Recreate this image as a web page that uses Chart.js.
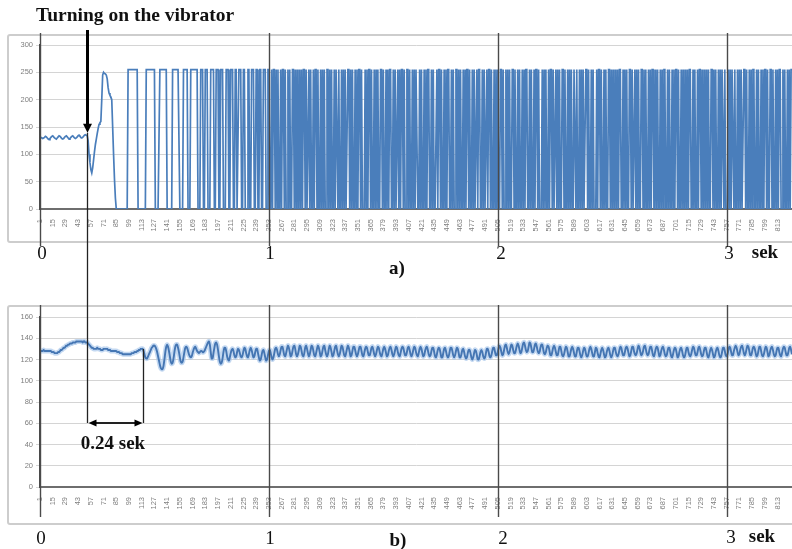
<!DOCTYPE html>
<html>
<head>
<meta charset="utf-8">
<script src="https://cdn.jsdelivr.net/npm/chart.js@4.4.0/dist/chart.umd.min.js"></script>
<style>
    body { margin: 0; background: #fff; width: 792px; height: 549px; overflow: hidden; position: relative; }
    .box { position: absolute; left: 7px; width: 800px; border: 2px solid #cdcdcd; border-radius: 3px; }
    #box-a { top: 34px; height: 205px; }
    #box-b { top: 305px; height: 216px; }
    canvas { position: absolute; left: 0; }
    #chart-a { top: 0; }
    #chart-b { top: 290px; }
    .txt { position: absolute; font-family: 'Liberation Serif', 'Times New Roman', serif; font-size: 19px; color: #111; transform: translate(-50%, -50%); white-space: nowrap; }
    .bold { font-weight: bold; }
    #title { left: 36px; top: 4px; transform: none; font-size: 19.5px; }
</style>
</head>
<body>
<div class="box" id="box-a"></div>
<div class="box" id="box-b"></div>
<canvas id="chart-a" width="792" height="290"></canvas>
<canvas id="chart-b" width="792" height="259"></canvas>

<div class="txt bold" id="title">Turning on the vibrator</div>
<div class="txt" style="left:42px; top:253px;">0</div>
<div class="txt" style="left:270px; top:253px;">1</div>
<div class="txt" style="left:501px; top:253px;">2</div>
<div class="txt" style="left:729px; top:253px;">3</div>
<div class="txt bold" style="left:765px; top:252px;">sek</div>
<div class="txt bold" style="left:397px; top:268px;">a)</div>
<div class="txt" style="left:41px; top:538px;">0</div>
<div class="txt" style="left:270px; top:538px;">1</div>
<div class="txt" style="left:503px; top:538px;">2</div>
<div class="txt" style="left:731px; top:537px;">3</div>
<div class="txt bold" style="left:762px; top:536px;">sek</div>
<div class="txt bold" style="left:398px; top:540px;">b)</div>
<div class="txt bold" style="left:113px; top:443px;">0.24 sek</div>

<script>
// sample numbers shown under both charts
const xTickLabels = [1, 15, 29, 43, 57, 71, 85, 99, 113, 127, 141, 155, 169, 183, 197, 211, 225, 239, 253, 267,
    281, 295, 309, 323, 337, 351, 365, 379, 393, 407, 421, 435, 449, 463, 477, 491, 505, 519, 533, 547,
    561, 575, 589, 603, 617, 631, 645, 659, 673, 687, 701, 715, 729, 743, 757, 771, 785, 799, 813];

const secondMarks = [0, 1, 2, 3];
const samplesPerSecond = 252;
const vibratorOnSample = 53;
const settledSample = 114;

// a) raw signal, one value per sample
const aSignal = [
    132,131,130,129,130,131,133,132,130,128,
    127,129,131,133,134,132,130,129,128,130,
    132,134,133,131,129,128,129,131,133,134,
    132,130,128,129,131,133,134,132,130,129,
    130,132,134,135,133,131,130,131,133,135,
    136,135,134,125,100,85,72,66,75,90,
    105,118,128,138,147,155,158,160,200,245,
    250,248,247,245,238,222,212,208,205,200,
    150,100,55,20,0,0,0,0,0,0,
    0,0,0,0,0,0,0,255,255,255,
    255,255,255,255,255,255,255,255,0,0,
    0,0,0,0,0,0,0,255,255,255,
    255,255,255,255,255,255,255,0,0,0,
    0,0,255,255,255,255,255,255,255,255,
    0,0,0,0,0,0,255,255,255,255,
    255,255,255,255,0,0,0,0,255,255,
    255,255,255,0,0,0,255,255,255,255,
    255,255,255,255,0,0,0,255,255,255,
    0,0,255,255,255,0,0,0,255,255,
    255,255,0,0,255,255,255,0,0,255,
    255,255,0,0,0,255,255,255,0,0,
    255,255,255,0,0,255,255,0,0,255,
    255,255,0,0,255,255,0,0,0,255,
    255,0,0,255,255,255,0,0,255,255,
    0,0,255,255,0,0,255,255,255,0,
    0,255,255,0,0,255,0,255,255,0,
    255,0,255,0,0,255,0,255,255,0,
    255,0,0,255,0,255,0,0,255,255,
    0,255,0,255,0,0,255,0,255,0,
    255,255,0,255,0,0,255,0,255,0,
    0,255,0,255,255,0,255,0,0,255,
    0,255,0,255,0,0,255,255,0,255,
    0,255,0,0,255,0,255,255,0,255,
    0,0,255,0,255,0,255,0,0,255,
    255,0,255,0,255,0,0,255,0,255,
    0,255,255,0,255,0,0,0,255,0,
    255,0,255,255,0,255,0,0,255,0,
    255,0,255,0,0,255,255,0,255,0,
    0,255,0,255,0,255,255,0,0,255,
    0,255,0,0,255,0,255,0,255,255,
    0,255,0,0,255,255,0,255,0,0,
    255,0,255,0,255,255,0,0,255,0,
    255,0,0,255,0,255,0,255,255,0,
    0,255,0,255,0,0,0,255,0,255,
    255,0,255,0,0,255,0,255,0,255,
    255,0,0,255,0,255,0,0,255,255,
    0,255,0,255,0,0,255,0,255,0,
    255,255,0,255,0,0,255,0,255,0,
    0,255,0,255,255,0,0,255,0,255,
    0,0,255,0,255,255,0,255,0,0,
    255,0,255,0,255,0,0,255,255,0,
    255,0,0,255,0,255,0,255,0,0,
    255,255,0,255,0,0,255,0,255,0,
    0,255,0,255,0,255,255,0,0,255,
    0,255,0,0,255,0,255,255,0,255,
    0,0,0,255,0,255,0,255,0,0,
    255,0,255,255,0,255,0,0,255,0,
    255,0,255,0,0,255,255,0,255,0,
    0,255,0,255,0,255,0,0,255,255,
    0,255,0,0,255,0,255,0,255,0,
    0,255,255,0,255,0,0,255,0,255,
    0,0,0,255,0,255,255,0,255,0,
    0,255,0,255,0,0,255,255,0,255,
    0,255,0,0,255,0,255,0,255,255,
    0,0,255,0,255,0,255,0,0,255,
    255,0,255,0,0,255,0,255,0,255,
    0,0,255,255,0,255,0,255,0,0,
    255,0,255,0,255,255,0,0,255,0,
    255,0,0,255,0,255,0,255,255,0,
    0,255,0,255,0,0,255,0,255,0,
    255,255,0,255,0,0,255,0,255,0,
    0,255,0,255,0,255,255,0,0,255,
    0,255,0,0,255,0,255,255,0,255,
    0,0,255,0,255,0,255,0,0,255,
    255,0,255,0,255,0,0,255,0,255,
    0,255,255,0,255,0,0,0,255,0,
    255,0,255,255,0,255,0,0,255,0,
    255,0,255,0,0,255,255,0,255,0,
    0,255,0,255,0,255,255,0,0,255,
    0,255,0,0,255,0,255,0,255,255,
    0,255,0,0,255,255,0,255,0,0,
    255,0,255,0,255,255,0,0,255,0,
    255,0,0,255,0,255,0,255,255
];

// b) filtered signal, one value per sample
const bSignal = [
    128,128,128,128,129,128,128,128,128,128,
    128,128,128,127,127,127,126,126,126,126,
    127,127,128,129,129,130,131,131,132,133,
    133,134,134,135,135,135,136,136,136,136,
    137,137,137,137,137,137,137,136,137,137,
    136,136,136,135,134,133,132,131,131,130,
    130,130,130,131,130,130,130,129,129,129,
    130,130,130,130,130,129,129,129,128,128,
    128,128,128,128,128,127,127,127,126,126,
    126,125,125,125,125,125,125,125,125,125,
    125,126,126,126,127,127,127,128,128,129,
    129,130,130,130,128,125,122,121,121,123,
    125,127,129,131,132,133,133,132,130,127,
    123,119,115,112,111,111,114,120,127,132,
    134,132,128,123,118,116,117,121,127,132,
    134,134,131,127,122,118,117,118,122,127,
    131,132,131,128,125,123,122,123,126,129,
    131,132,130,128,127,126,127,128,128,127,
    127,128,130,132,134,136,137,134,127,121,
    121,126,131,135,136,134,129,123,118,116,
    117,121,127,131,131,128,123,120,119,122,
    126,129,130,128,124,122,123,127,130,129,
    126,123,122,124,128,131,130,126,123,122,
    125,129,131,129,125,122,123,127,130,130,
    126,122,119,120,124,128,129,126,122,119,
    120,124,128,129,126,122,120,122,126,130,
    131,129,125,123,125,129,132,132,128,124,
    123,126,130,133,131,127,123,124,128,132,
    133,130,125,123,125,129,133,132,128,124,
    123,126,131,133,130,126,123,125,129,133,
    132,128,124,123,126,130,133,131,127,123,
    124,128,132,133,129,125,123,125,130,133,
    131,127,123,124,128,132,133,129,125,123,
    125,129,133,132,128,124,123,126,130,133,
    131,127,123,124,128,132,132,129,125,123,
    125,129,132,132,128,124,123,126,130,132,
    131,127,124,124,127,131,132,129,125,123,
    125,129,132,131,127,124,123,126,130,132,
    130,126,123,124,128,131,132,129,125,123,
    125,129,132,131,127,124,123,126,130,132,
    131,127,124,124,127,131,132,129,125,123,
    125,129,132,131,127,124,123,126,130,132,
    130,126,123,124,128,131,132,129,125,123,
    124,128,131,131,127,123,122,125,129,131,
    130,126,122,122,126,130,131,128,124,122,
    123,127,131,131,128,124,122,124,128,131,
    130,126,122,122,125,129,130,127,123,121,
    122,126,129,129,126,122,120,122,126,129,
    128,124,120,120,123,127,129,127,123,121,
    122,126,130,130,127,123,122,124,128,131,
    131,127,124,124,127,131,133,131,127,124,
    125,129,133,134,131,127,125,127,131,134,
    133,129,126,126,129,133,135,133,129,126,
    127,131,135,136,133,129,127,128,132,136,
    135,131,127,127,130,134,135,132,128,126,
    127,131,134,134,130,126,125,127,131,133,
    132,128,124,124,127,131,133,131,127,124,
    124,128,132,132,128,124,123,125,129,132,
    131,127,123,123,126,130,132,130,126,123,
    123,127,131,131,128,124,122,124,128,131,
    130,126,123,123,126,130,132,130,126,123,
    123,127,131,130,126,123,122,125,129,131,
    129,125,122,123,127,130,131,128,124,122,
    124,128,131,131,127,124,123,125,129,132,
    131,127,124,124,127,131,132,130,126,123,
    124,128,132,132,128,125,124,126,130,133,
    131,127,124,125,128,132,133,130,126,124,
    125,129,132,132,128,124,123,126,130,132,
    131,127,123,124,128,131,132,129,125,123,
    124,128,131,131,127,123,122,125,129,131,
    130,126,122,123,127,130,131,128,124,122,
    123,127,131,131,127,124,123,125,129,132,
    131,127,124,124,127,131,132,129,125,123,
    124,128,131,131,127,123,122,125,129,131,
    129,125,122,123,127,130,131,128,124,122,
    123,127,131,131,128,124,123,125,129,132,
    131,127,124,124,128,131,133,131,127,124,
    125,129,132,133,130,126,124,126,130,133,
    132,128,124,124,127,131,132,130,126,123,
    124,128,132,132,128,124,123,125,129,132,
    131,127,123,124,128,131,132,129,125,123,
    124,128,131,131,127,124,123,126,130,132,
    131,127,124,124,127,131,132,129,125
];

const lineBlue = '#4a7ebb';
const tickGrey = '#7e7e7e';
const markGrey = '#4a4a4a';

// vertical lines at 0, 1, 2, 3 seconds
const secondLines = {
    id: 'secondLines',
    afterDraw(chart, args, opts) {
        const { ctx, scales: { x } } = chart;
        ctx.save();
        ctx.strokeStyle = markGrey;
        ctx.lineWidth = 1.4;
        secondMarks.forEach(s => {
            const px = Math.round(x.getPixelForValue(1 + s * samplesPerSecond)) + 0.5;
            ctx.beginPath();
            ctx.moveTo(px, opts.top);
            ctx.lineTo(px, opts.bottom);
            ctx.stroke();
        });
        ctx.restore();
    }
};

function arrowHead(ctx, tipX, tipY, dx, dy, len, half) {
    // dx, dy: unit direction of the arrow
    ctx.beginPath();
    ctx.moveTo(tipX, tipY);
    ctx.lineTo(tipX - dx * len - dy * half, tipY - dy * len + dx * half);
    ctx.lineTo(tipX - dx * len + dy * half, tipY - dy * len - dx * half);
    ctx.closePath();
    ctx.fill();
}

const switchOnMark = {
    id: 'switchOnMark',
    afterDraw(chart) {
        const { ctx, scales: { x, y } } = chart;
        const px = Math.round(x.getPixelForValue(vibratorOnSample)) + 0.5;
        const tip = y.getPixelForValue(aSignal[vibratorOnSample - 1]) - 3;
        ctx.save();
        ctx.fillStyle = '#000';
        ctx.strokeStyle = '#000';
        ctx.lineWidth = 3;
        ctx.beginPath();
        ctx.moveTo(px, 30);
        ctx.lineTo(px, tip - 8);
        ctx.stroke();
        arrowHead(ctx, px, tip, 0, 1, 9, 4.5);
        ctx.strokeStyle = '#222';
        ctx.lineWidth = 1.3;
        ctx.beginPath();
        ctx.moveTo(px, tip);
        ctx.lineTo(px, chart.height);
        ctx.stroke();
        ctx.restore();
    }
};

const delayMark = {
    id: 'delayMark',
    afterDraw(chart, args, opts) {
        const { ctx, scales: { x, y } } = chart;
        const x0 = Math.round(x.getPixelForValue(vibratorOnSample)) + 0.5;
        const x1 = Math.round(x.getPixelForValue(settledSample)) + 0.5;
        const y1 = y.getPixelForValue(bSignal[settledSample - 1]);
        const yb = opts.bracketY;
        ctx.save();
        ctx.strokeStyle = '#222';
        ctx.fillStyle = '#000';
        ctx.lineWidth = 1.3;
        ctx.beginPath();
        ctx.moveTo(x0, 0);
        ctx.lineTo(x0, yb);
        ctx.moveTo(x1, y1);
        ctx.lineTo(x1, yb);
        ctx.stroke();
        ctx.lineWidth = 2;
        ctx.beginPath();
        ctx.moveTo(x0 + 6, yb);
        ctx.lineTo(x1 - 6, yb);
        ctx.stroke();
        arrowHead(ctx, x0 + 1, yb, -1, 0, 8, 3.5);
        arrowHead(ctx, x1 - 1, yb, 1, 0, 8, 3.5);
        ctx.restore();
    }
};

function xScale() {
    return {
        type: 'linear',
        min: 1,
        max: 829,
        afterFit: scale => { scale.height = 30; },
        afterBuildTicks: scale => { scale.ticks = xTickLabels.map(v => ({ value: v })); },
        grid: { display: false },
        border: { color: '#6e6e6e', width: 2 },
        ticks: {
            autoSkip: false,
            minRotation: 90,
            maxRotation: 90,
            padding: 2,
            color: tickGrey,
            font: { family: 'Liberation Sans', size: 7.5 },
            callback: v => String(v),
        },
    };
}

function yScale(max, step) {
    return {
        min: 0,
        max: max,
        afterFit: scale => { scale.width = 32; },
        grid: { color: '#d4d4d4', lineWidth: 1, tickLength: 4 },
        border: { color: markGrey, width: 1.5 },
        ticks: {
            stepSize: step,
            padding: 3,
            color: tickGrey,
            font: { family: 'Liberation Sans', size: 7.5 },
        },
    };
}

new Chart(document.getElementById('chart-a'), {
    type: 'line',
    data: {
        datasets: [{
            data: aSignal.map((v, i) => ({ x: i + 1, y: v })),
            borderColor: lineBlue,
            borderWidth: 1.7,
            pointRadius: 0,
            tension: 0,
        }]
    },
    options: {
        responsive: false,
        animation: false,
        layout: { padding: { left: 8, top: 45, right: 0, bottom: 51 } },
        scales: { x: xScale(), y: yScale(300, 50) },
        plugins: {
            legend: { display: false },
            tooltip: { enabled: false },
            secondLines: { top: 33, bottom: 246 },
        }
    },
    plugins: [secondLines, switchOnMark]
});

new Chart(document.getElementById('chart-b'), {
    type: 'line',
    data: {
        datasets: [{
            data: bSignal.map((v, i) => ({ x: i + 1, y: v })),
            borderColor: '#4576b3',
            borderWidth: 1.9,
            pointRadius: 0,
            tension: 0.3,
        }, {
            data: bSignal.map((v, i) => ({ x: i + 1, y: v })),
            borderColor: 'rgba(170, 200, 235, 0.7)',
            borderWidth: 5,
            pointRadius: 0,
            tension: 0.3,
        }]
    },
    options: {
        responsive: false,
        animation: false,
        layout: { padding: { left: 8, top: 27, right: 0, bottom: 32 } },
        scales: { x: xScale(), y: yScale(160, 20) },
        plugins: {
            legend: { display: false },
            tooltip: { enabled: false },
            secondLines: { top: 15, bottom: 227 },
            delayMark: { bracketY: 133 },
        }
    },
    plugins: [secondLines, delayMark]
});
</script>
</body>
</html>
